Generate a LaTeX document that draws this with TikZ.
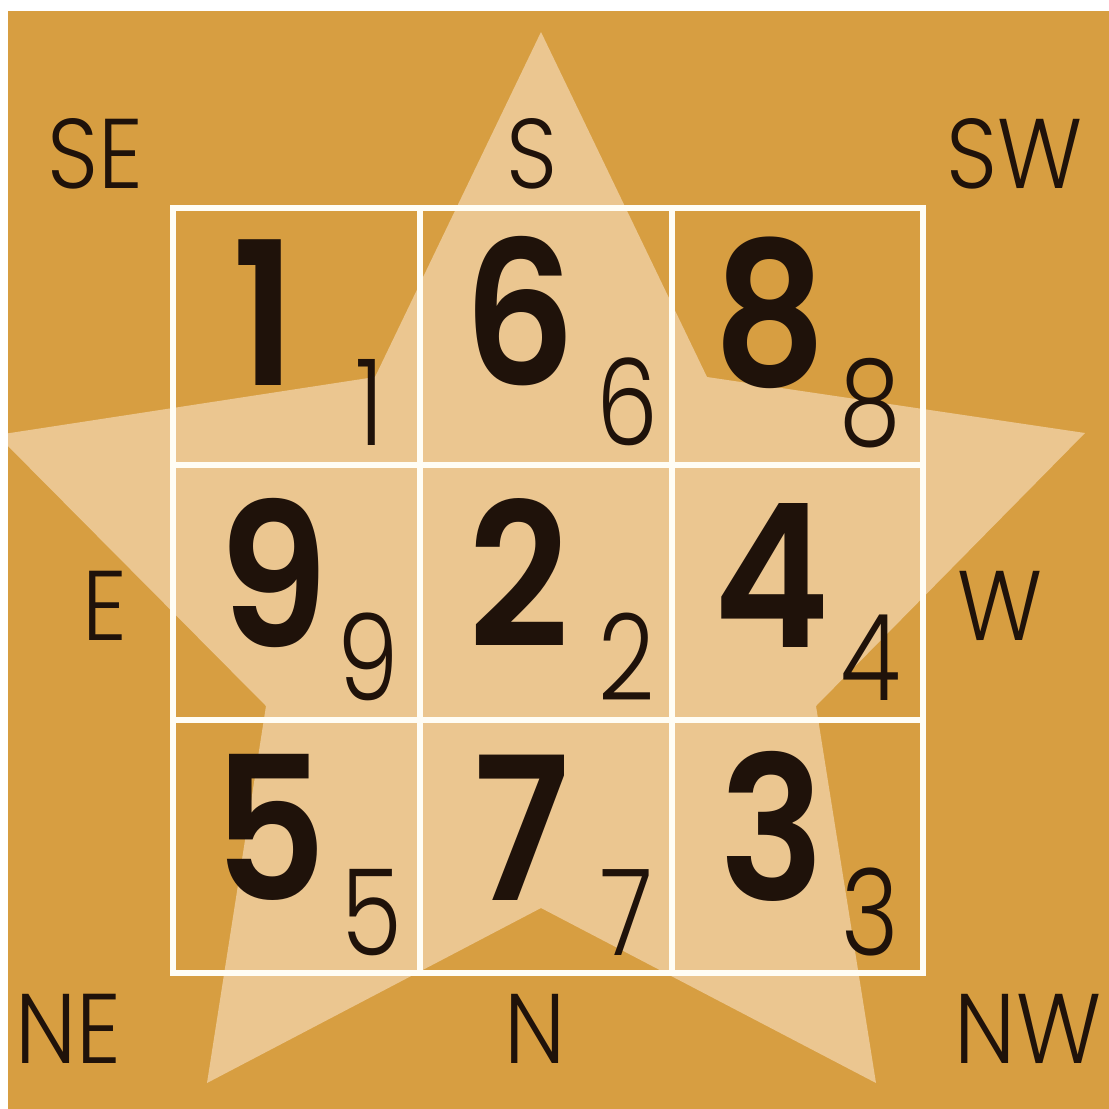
\documentclass[tikz,border=0pt]{standalone}
\usepackage{fontspec}
\newfontfamily\bigdig{Poppins SemiBold}[FakeStretch=0.88]
\newfontfamily\thin{Poppins Light}[FakeStretch=0.82]
\newfontfamily\labfont{Poppins Light}[FakeStretch=0.9]
\definecolor{bgorange}{HTML}{D79E41}
\definecolor{starfill}{HTML}{EBC690}
\definecolor{ink}{HTML}{1F120A}
\definecolor{gridline}{HTML}{FFFDF5}
\tikzset{
  bignum/.style={anchor=base, inner sep=0pt, text=ink, font=\bigdig\fontsize{200}{200}\selectfont},
  smallnum/.style={anchor=base, inner sep=0pt, text=ink, font=\thin\fontsize{120}{120}\selectfont},
  dirlabel/.style={anchor=base, inner sep=0pt, text=ink, font=\labfont\fontsize{99}{99}\selectfont},
  gridpen/.style={draw=gridline, line width=6pt}
}
\begin{document}
\begin{tikzpicture}[x=1pt,y=-1pt]
\useasboundingbox (0,0) rectangle (1109,1109);
\fill[white] (0,0) rectangle (1109,1109);
\fill[bgorange] (8,11) rectangle (1109,1109);
\begin{scope}
\clip (8,11) rectangle (1109,1109);
\fill[starfill] (541,32) -- (707,377) -- (1085,433) -- (816,706) -- (876,1083)
  -- (541,908) -- (207,1083) -- (266,706) -- (-3,435) -- (375,377) -- cycle;
\end{scope}
% grid
\coordinate (g00) at (173,208);
\coordinate (g33) at (923,973);
\draw[gridpen] (g00) rectangle (g33);
\draw[gridpen] (420,208) -- (420,973);
\draw[gridpen] (672,208) -- (672,973);
\draw[gridpen] (173,465) -- (923,465);
\draw[gridpen] (173,720) -- (923,720);
% big numbers
\node[bignum] (b1) at (264,385) {1};
\node[bignum] (b6) at (520,385) {6};
\node[bignum] (b8) at (770,385) {8};
\node[bignum] (b9) at (274,647) {9};
\node[bignum] (b2) at (519,647) {2};
\node[bignum] (b4) at (772,647) {4};
\node[bignum] (b5) at (270,900) {5};
\node[bignum] (b7) at (522,900) {7};
\node[bignum] (b3) at (772,900) {3};
% small numbers
\node[smallnum] (s1) at (370,445) {1};
\node[smallnum] (s6) at (627,445) {6};
\node[smallnum] (s8) at (870,445) {8};
\node[smallnum] (s9) at (368,700) {9};
\node[smallnum] (s2) at (627,700) {2};
\node[smallnum] (s4) at (871,700) {4};
\node[smallnum] (s5) at (372,955) {5};
\node[smallnum] (s7) at (627,955) {7};
\node[smallnum] (s3) at (870,955) {3};
% direction labels
\node[dirlabel] (se) at (95,188) {SE};
\node[dirlabel] (s) at (532,188) {S};
\node[dirlabel] (sw) at (1015,188) {SW};
\node[dirlabel] (e) at (105,640) {E};
\node[dirlabel] (w) at (1000,640) {W};
\node[dirlabel] (ne) at (68,1063) {NE};
\node[dirlabel] (n) at (535,1063) {N};
\node[dirlabel] (nw) at (1028,1063) {NW};
\end{tikzpicture}
\end{document}
